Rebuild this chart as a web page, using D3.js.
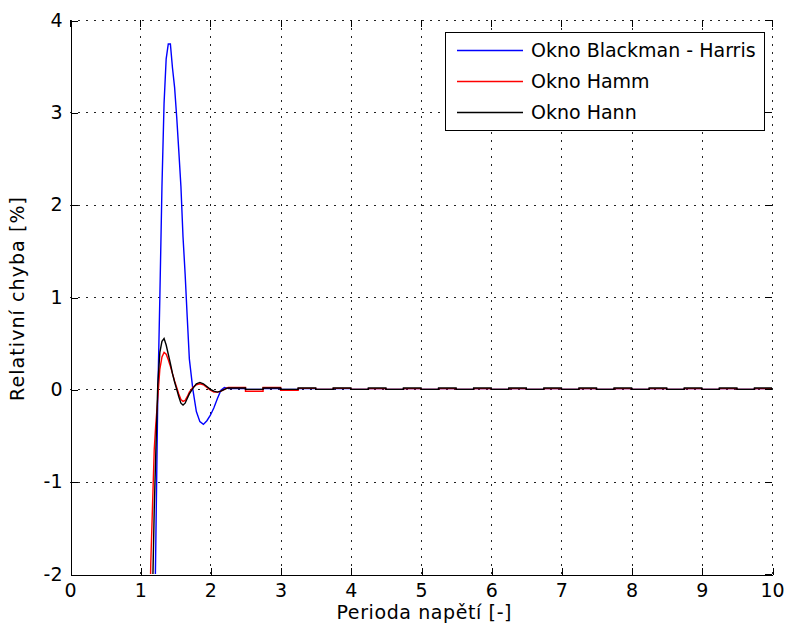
<!DOCTYPE html>
<html>
<head>
<meta charset="utf-8">
<script src="https://cdn.jsdelivr.net/npm/d3@7"></script>
<style>
  html, body { margin: 0; padding: 0; background: #fff; }
  svg { display: block; }
  text { font-family: "DejaVu Sans", Verdana, sans-serif; fill: #000; }
</style>
</head>
<body>
<svg id="chart" width="787" height="633"></svg>
<script>
// ---------- data ----------
const seriesNames = ["Okno Blackman - Harris", "Okno Hamm", "Okno Hann"];
const seriesColors = ["#0000ff", "#ff0000", "#000000"];

const xTicks = [0, 1, 2, 3, 4, 5, 6, 7, 8, 9, 10];
const yTicks = [-2, -1, 0, 1, 2, 3, 4];

// transient part (x = perioda napětí)
const periodMain = [1.10, 1.15, 1.20, 1.22, 1.25, 1.28, 1.31, 1.34, 1.37, 1.40, 1.43, 1.46, 1.49, 1.52,
  1.55, 1.58, 1.61, 1.64, 1.67, 1.70, 1.75, 1.80, 1.85, 1.90, 1.95, 2.00, 2.05, 2.10, 2.15, 2.20, 2.25];
const blackmanHarrisMain = [-9.0, -6.5, -2.9, -1.8, -0.1, 1.0, 2.2, 3.1, 3.58, 3.74, 3.74, 3.48, 3.27, 2.95,
  2.58, 2.20, 1.65, 1.25, 0.78, 0.33, 0.0, -0.24, -0.35, -0.38, -0.34, -0.28, -0.20, -0.10, -0.01, 0.02, 0.01];
const hammMain = [-4.5, -1.9, -0.65, -0.40, -0.10, 0.22, 0.35, 0.40, 0.38, 0.32, 0.25, 0.17, 0.09, 0.02,
  -0.05, -0.11, -0.13, -0.12, -0.08, -0.03, 0.02, 0.05, 0.06, 0.05, 0.02, -0.01, -0.03, -0.03, -0.02, 0.0, 0.02];
const hannMain = [-6.0, -3.2, -1.3, -0.75, 0.05, 0.40, 0.52, 0.55, 0.48, 0.38, 0.28, 0.17, 0.08, 0.0,
  -0.08, -0.15, -0.17, -0.15, -0.10, -0.05, 0.01, 0.06, 0.075, 0.06, 0.03, 0.0, -0.02, -0.03, -0.02, 0.0, 0.015];

// steady-state ripple (step-wise)
const periodTail = [2.25, 2.5, 2.75, 3.0, 3.25, 3.5, 3.75, 4.0, 4.25, 4.5, 4.75, 5.0, 5.25, 5.5, 5.75, 6.0,
  6.25, 6.5, 6.75, 7.0, 7.25, 7.5, 7.75, 8.0, 8.25, 8.5, 8.75, 9.0, 9.25, 9.5, 9.75, 10.0];
const blackmanHarrisTail = [0.008, 0.0, 0.008, 0.0, 0.008, 0.0, 0.008, 0.0, 0.008, 0.0, 0.008, 0.0, 0.008, 0.0, 0.008, 0.0,
  0.008, 0.0, 0.008, 0.0, 0.008, 0.0, 0.008, 0.0, 0.008, 0.0, 0.008, 0.0, 0.008, 0.0, 0.008, 0.0];
const hammTail = [0.02, -0.02, 0.02, -0.01, 0.01, 0.0, 0.01, 0.0, 0.008, 0.0, 0.008, 0.0, 0.008, 0.0, 0.008, 0.0,
  0.008, 0.0, 0.008, 0.0, 0.008, 0.0, 0.008, 0.0, 0.008, 0.0, 0.008, 0.0, 0.008, 0.0, 0.008, 0.0];
const hannTail = [0.015, 0.0, 0.015, 0.0, 0.015, 0.0, 0.015, 0.0, 0.015, 0.0, 0.015, 0.0, 0.015, 0.0, 0.015, 0.0,
  0.015, 0.0, 0.015, 0.0, 0.015, 0.0, 0.015, 0.0, 0.015, 0.0, 0.015, 0.0, 0.015, 0.0, 0.015, 0.0];

const xLabel = "Perioda napětí [-]";
const yLabel = "Relativní chyba [%]";

// ---------- layout ----------
const svg = d3.select("#chart");
const L = 70, R = 772, T = 20, B = 574;
const x = d3.scaleLinear().domain([0, 10]).range([L, R]);
const y = d3.scaleLinear().domain([-2, 4]).range([B, T]);
const FS = 19;

// grid
const grid = svg.append("g").attr("stroke", "#222").attr("stroke-width", 1)
  .attr("stroke-dasharray", "2,6").attr("shape-rendering", "crispEdges");
xTicks.slice(1, -1).forEach(t => {
  grid.append("line").attr("x1", Math.round(x(t)) + 0.5).attr("x2", Math.round(x(t)) + 0.5)
    .attr("y1", T).attr("y2", B);
});
yTicks.slice(1, -1).forEach(t => {
  grid.append("line").attr("y1", Math.round(y(t)) + 0.5).attr("y2", Math.round(y(t)) + 0.5)
    .attr("x1", L).attr("x2", R);
});
// top & right dotted border (grid edge)
grid.append("line").attr("x1", L).attr("x2", R).attr("y1", T + 0.5).attr("y2", T + 0.5);
grid.append("line").attr("x1", R + 0.5).attr("x2", R + 0.5).attr("y1", T).attr("y2", B);

// clip
svg.append("defs").append("clipPath").attr("id", "clip")
  .append("rect").attr("x", L).attr("y", T).attr("width", R - L).attr("height", B - T);

const plot = svg.append("g").attr("clip-path", "url(#clip)");
const mains = [blackmanHarrisMain, hammMain, hannMain];
const tails = [blackmanHarrisTail, hammTail, hannTail];
const lineMain = d3.line().x(d => x(d[0])).y(d => y(d[1]));
const lineTail = d3.line().x(d => x(d[0])).y(d => y(d[1])).curve(d3.curveStepAfter);
mains.forEach((vals, i) => {
  const g = plot.append("g").attr("fill", "none").attr("stroke", seriesColors[i]).attr("stroke-width", 1.4);
  g.append("path").attr("d", lineMain(periodMain.map((p, k) => [p, vals[k]])));
  g.append("path").attr("d", lineTail(periodTail.map((p, k) => [p, tails[i][k]])));
});

// axes (left & bottom with labels)
const axB = svg.append("g").attr("transform", `translate(0,${B + 0.5})`)
  .call(d3.axisBottom(x).tickValues(xTicks).tickFormat(d3.format("d")).tickSizeInner(-7).tickSizeOuter(0).tickPadding(9));
const axL = svg.append("g").attr("transform", `translate(${L + 0.5},0)`)
  .call(d3.axisLeft(y).tickValues(yTicks).tickFormat(d3.format("d")).tickSizeInner(-7).tickSizeOuter(0).tickPadding(8));
[axB, axL].forEach(a => {
  a.select(".domain").attr("stroke", "#000").attr("shape-rendering", "crispEdges");
  a.selectAll(".tick line").attr("stroke", "#000").attr("shape-rendering", "crispEdges");
  a.selectAll(".tick text").attr("font-size", FS).attr("font-family", "DejaVu Sans").attr("fill", "#000");
});
axB.selectAll(".tick line").attr("x1", 0.5).attr("x2", 0.5);
axL.selectAll(".tick line").attr("y1", 0.5).attr("y2", 0.5);
// minus sign as hyphen like original
axL.selectAll(".tick text").text(d => String(d));
// top & right tick marks
const tickG = svg.append("g").attr("stroke", "#000").attr("shape-rendering", "crispEdges");
xTicks.forEach(t => {
  tickG.append("line").attr("x1", Math.round(x(t)) + 0.5).attr("x2", Math.round(x(t)) + 0.5).attr("y1", T).attr("y2", T + 7);
});
yTicks.forEach(t => {
  tickG.append("line").attr("y1", Math.round(y(t)) + 0.5).attr("y2", Math.round(y(t)) + 0.5).attr("x1", R - 7).attr("x2", R);
});

// axis titles
svg.append("text").attr("x", 424).attr("y", 619).attr("text-anchor", "middle")
  .attr("font-size", FS).attr("textLength", 175).attr("lengthAdjust", "spacing").text(xLabel);
svg.append("text").attr("transform", `translate(24,299) rotate(-90)`).attr("text-anchor", "middle")
  .attr("font-size", FS).attr("textLength", 204).attr("lengthAdjust", "spacing").text(yLabel);

// legend
const lg = svg.append("g");
lg.append("rect").attr("x", 445.5).attr("y", 32.5).attr("width", 319).attr("height", 98)
  .attr("fill", "#fff").attr("stroke", "#000").attr("shape-rendering", "crispEdges");
seriesNames.forEach((n, i) => {
  const yy = 50 + i * 31;
  lg.append("line").attr("x1", 457).attr("x2", 523).attr("y1", yy + 0.5).attr("y2", yy + 0.5)
    .attr("stroke", seriesColors[i]).attr("stroke-width", 1.4);
  lg.append("text").attr("x", 531).attr("y", yy + 7).attr("font-size", FS).text(n);
});
</script>
</body>
</html>
